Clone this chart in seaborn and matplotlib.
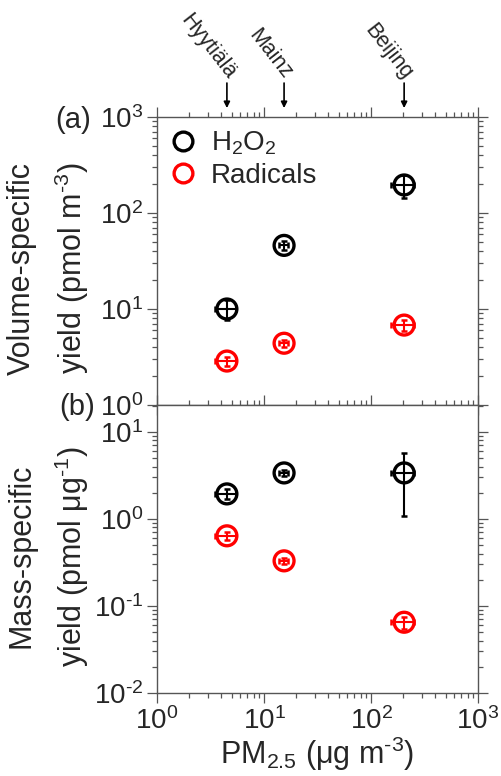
#!/usr/bin/env python3
"""Volume- and mass-specific yields of H2O2 and radicals vs PM2.5"""
import seaborn as sns
import numpy as np
import pandas as pd
import matplotlib
matplotlib.use("Agg")
from matplotlib import pyplot as plt
from matplotlib.lines import Line2D
from matplotlib.ticker import FuncFormatter

sites = ["Hyytiälä", "Mainz", "Beijing"]
pm25 = [4.5, 15.4, 204.0]
pm25_err = [1.0, 1.5, 50.0]

vol_h2o2 = [10.0, 46.0, 196.0]
vol_h2o2_err = [2.3, 5.0, 52.0]
vol_rad = [2.87, 4.4, 6.8]
vol_rad_err = [0.3, 0.4, 0.9]

mass_h2o2 = [1.94, 3.38, 3.38]
mass_h2o2_err = [0.25, 0.3, 2.3]
mass_rad = [0.64, 0.33, 0.065]
mass_rad_err = [0.07, 0.03, 0.01]

species = ["H2O2", "Radicals"]
legend_labels = ["H$_2$O$_2$", "Radicals"]
colors = {"H2O2": "#000000", "Radicals": "#ff0000"}

HY = "\u2010"  # short hyphen used in the superscripts

sns.set_theme(style="ticks")
plt.rcParams["font.family"] = ["Liberation Sans", "DejaVu Sans"]
plt.rcParams["mathtext.fontset"] = "custom"
plt.rcParams["mathtext.rm"] = "Liberation Sans"
plt.rcParams["mathtext.it"] = "Liberation Sans:italic"
plt.rcParams["mathtext.default"] = "regular"

rows = []
for sp, vol, vol_e, mass, mass_e in [
        ("H2O2", vol_h2o2, vol_h2o2_err, mass_h2o2, mass_h2o2_err),
        ("Radicals", vol_rad, vol_rad_err, mass_rad, mass_rad_err)]:
    for i, site in enumerate(sites):
        rows.append({"site": site, "species": sp, "pm25": pm25[i],
                     "pm25_err": pm25_err[i], "volume": vol[i],
                     "volume_err": vol_e[i], "mass": mass[i],
                     "mass_err": mass_e[i]})
df = pd.DataFrame(rows)


def pow10(v, pos):
    e = int(round(np.log10(v)))
    s = str(e).replace("-", HY)
    return "$10^{" + s + "}$"


fig = plt.figure(figsize=(5.01, 7.76), dpi=100)
ax_top = fig.add_axes([0.3134, 0.4781, 0.6407, 0.3711])
ax_bot = fig.add_axes([0.3134, 0.1070, 0.6407, 0.3711], sharex=ax_top)

SPINE = "#555555"
for ax, col, ylim in [(ax_top, "volume", (1, 1000)),
                      (ax_bot, "mass", (0.01, 20.4))]:
    ax.set_xscale("log")
    ax.set_yscale("log")
    sns.scatterplot(data=df, x="pm25", y=col, hue="species",
                    palette=colors, s=205, legend=False, ax=ax, zorder=3)
    # hollow circles
    for coll in ax.collections:
        fc = coll.get_facecolors()
        coll.set_edgecolors(fc)
        coll.set_facecolors("none")
        coll.set_linewidths(2.4)
    for sp in species:
        sub = df[df["species"] == sp]
        ax.errorbar(sub["pm25"], sub[col], xerr=sub["pm25_err"],
                    yerr=sub[col + "_err"], fmt="none", ecolor=colors[sp],
                    elinewidth=1.5, capsize=2.5, capthick=1.8, zorder=2)
    ax.set_xlim(1, 1000)
    ax.set_ylim(*ylim)
    ax.set_xlabel("")
    ax.xaxis.set_major_formatter(FuncFormatter(pow10))
    ax.yaxis.set_major_formatter(FuncFormatter(pow10))
    ax.tick_params(which="both", direction="out", top=True, right=True,
                   color=SPINE, labelsize=20, width=0.9)
    ax.tick_params(which="major", length=7, pad=3)
    ax.tick_params(which="minor", length=3.5)
    for s in ax.spines.values():
        s.set_color(SPINE)
        s.set_linewidth(1.0)

ax_top.tick_params(axis="x", labelbottom=False)
ax_top.set_ylabel("Volume-specific\nyield (pmol m$^{" + HY + "3}$)",
                  fontsize=22, linespacing=1.55, multialignment="center")
ax_bot.set_ylabel("Mass-specific\nyield (pmol \u03bcg$^{" + HY + "1}$)",
                  fontsize=22, linespacing=1.55, multialignment="center")
ax_top.yaxis.set_label_coords(-0.205, 0.475)
ax_bot.yaxis.set_label_coords(-0.205, 0.475)
ax_bot.set_xlabel("PM$_{2.5}$ (\u03bcg m$^{" + HY + "3}$)", fontsize=22,
                  labelpad=0)

fig.text(91 / 501, 1 - 120 / 776, "(a)", fontsize=21, ha="right", va="center")
fig.text(95 / 501, 1 - 407 / 776, "(b)", fontsize=21, ha="right", va="center")

# legend
handles = [Line2D([], [], linestyle="", marker="o", markersize=13.5,
                  markerfacecolor="none", markeredgecolor=colors[sp],
                  markeredgewidth=2.4) for sp in species]
ax_top.legend(handles, legend_labels, loc="upper left", frameon=False,
              fontsize=20, handletextpad=0.5, labelspacing=0.2,
              borderaxespad=0.05, handlelength=1.0)

# site markers above the top axis
for site, x in zip(sites, pm25):
    ax_top.annotate("", xy=(x, 1.031), xycoords=("data", "axes fraction"),
                    xytext=(x, 1.118), textcoords=("data", "axes fraction"),
                    arrowprops=dict(arrowstyle="-|>", color="black", lw=1.2,
                                    mutation_scale=9, shrinkA=0, shrinkB=0),
                    annotation_clip=False)
    ax_top.annotate(site, xy=(x, 1.14), xycoords=("data", "axes fraction"),
                    xytext=(3, 0), textcoords="offset points",
                    rotation=-52, rotation_mode="anchor", ha="right",
                    va="center", fontsize=15.5, annotation_clip=False)

fig.savefig("out.png", dpi=100)
